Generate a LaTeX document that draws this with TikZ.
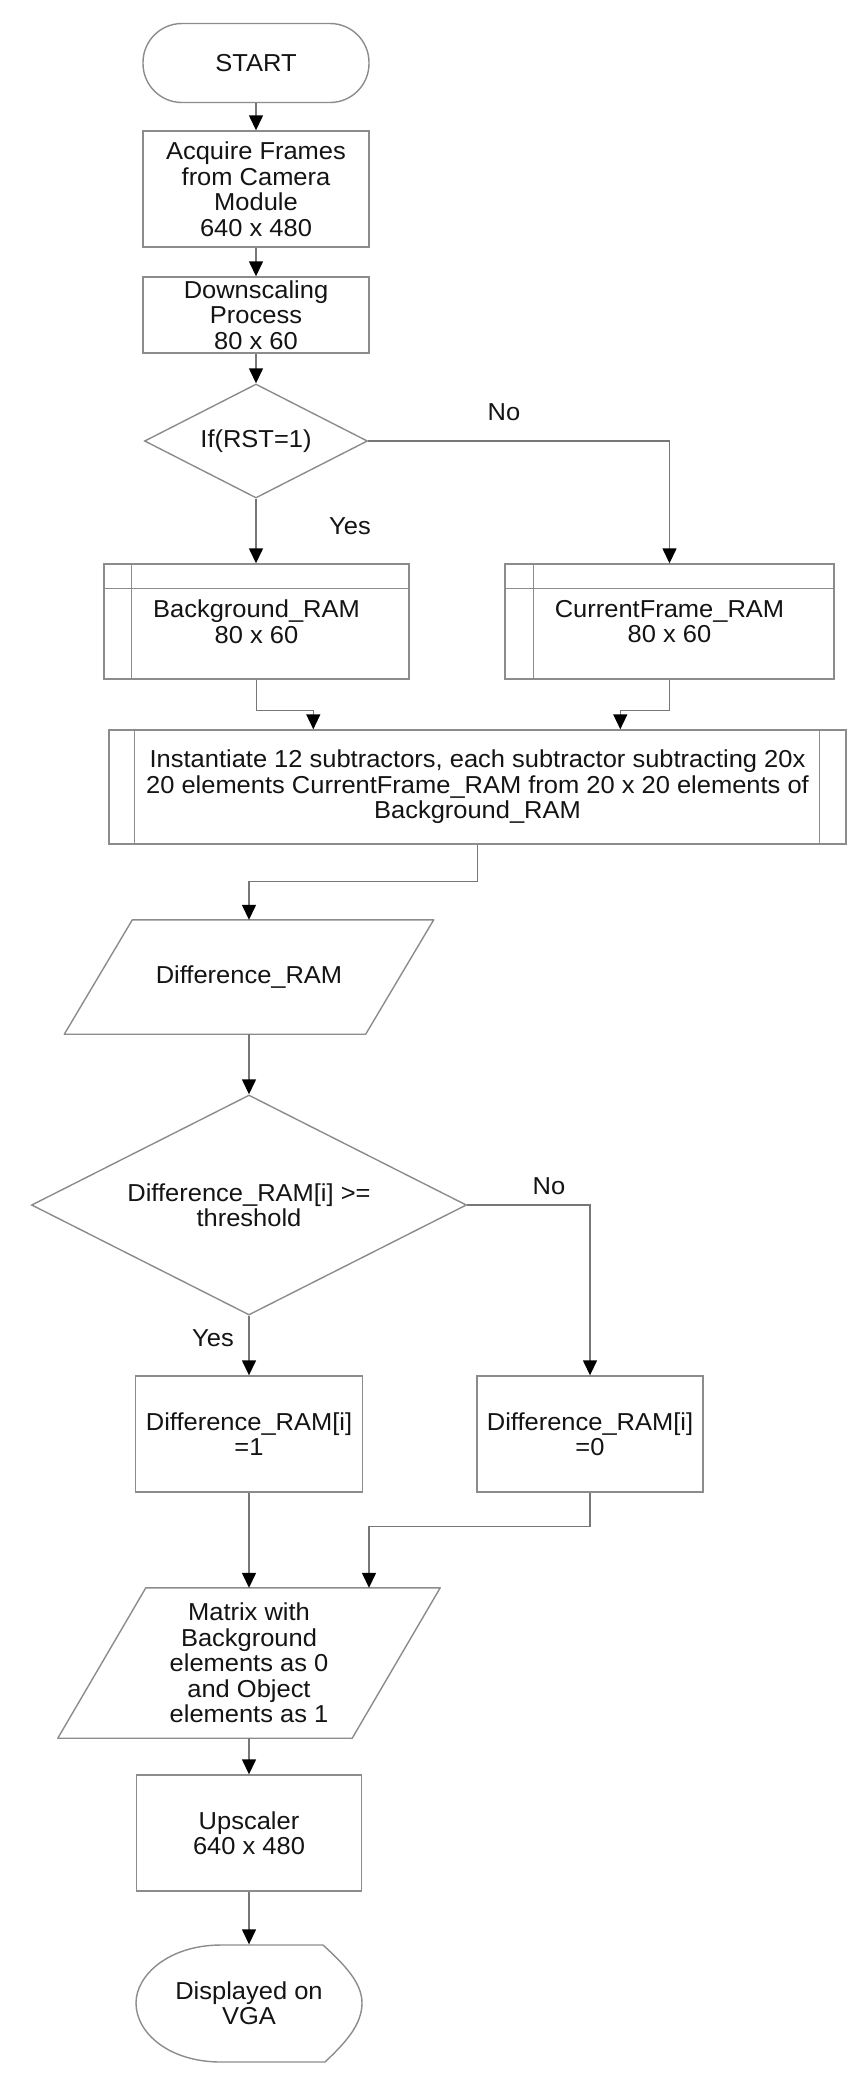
\documentclass[tikz,border=0pt]{standalone}
\usepackage{fontspec}
\setmainfont[FakeStretch=1.04]{Liberation Sans}
\usetikzlibrary{arrows.meta,shapes.geometric,calc}
\definecolor{edgegray}{HTML}{8C8C8C}
\definecolor{wiregray}{HTML}{777777}
\definecolor{ink}{HTML}{141414}
\begin{document}
\begin{tikzpicture}[x=1pt,y=-1pt,
  every node/.style={font=\fontsize{24.5}{25.5}\selectfont, text=ink, align=center, inner sep=0pt},
  procbox/.style={draw=edgegray, line width=1.4pt, rectangle},
  hidden/.style={rectangle},
  decision/.style={draw=edgegray, line width=1.4pt, diamond, aspect=1.95},
  outline/.style={draw=edgegray, line width=1.4pt, line join=round},
  wire/.style={draw=wiregray, line width=1.4pt},
  conn/.style={wire, -{Triangle[length=15pt,width=14pt,color=black]}},
  lbl/.style={}
]
\useasboundingbox (0,0) rectangle (850,2075);
\fill[white] (0,0) rectangle (850,2075);

% upper column
\node[procbox, rounded corners=39pt, minimum width=226pt, minimum height=79pt] (start) at (256,63) {START};
\node[procbox, minimum width=226pt, minimum height=116pt] (acquire) at (256,189)
  {Acquire Frames\\from Camera\\Module\\640 x 480};
\node[procbox, minimum width=226pt, minimum height=76pt] (down) at (256,315)
  {Downscaling\\Process\\80 x 60};
\node[decision, minimum width=223pt, minimum height=114pt] (dec1) at (256,441) {If(RST=1)};

% RAM blocks (predefined-process style)
\node[procbox, minimum width=305pt, minimum height=115pt] (bg) at (256.5,621.5)
  {Background\_RAM\\80 x 60};
\draw[outline] ($(bg.north west)+(28,0)$) -- ($(bg.south west)+(28,0)$);
\draw[outline] ($(bg.north west)+(0,25)$) -- ($(bg.north east)+(0,25)$);

\node[procbox, minimum width=329pt, minimum height=115pt] (cur) at (669.5,621.5)
  {CurrentFrame\_RAM\\80 x 60};
\draw[outline] ($(cur.north west)+(29,0)$) -- ($(cur.south west)+(29,0)$);
\draw[outline] ($(cur.north west)+(0,25)$) -- ($(cur.north east)+(0,25)$);

\node[procbox, minimum width=737pt, minimum height=114pt] (inst) at (477.5,787)
  {Instantiate 12 subtractors, each subtractor subtracting 20x\\20 elements CurrentFrame\_RAM from 20 x 20 elements of\\Background\_RAM};
\draw[outline] ($(inst.north west)+(26,0)$) -- ($(inst.south west)+(26,0)$);
\draw[outline] ($(inst.north east)+(-27,0)$) -- ($(inst.south east)+(-27,0)$);

% lower column
\node[hidden, minimum width=301pt, minimum height=114pt] (diffram) at (249,977) {Difference\_RAM};
\draw[outline] ($(diffram.north west)+(34,0)$) -- ($(diffram.north east)+(34,0)$)
  -- ($(diffram.south east)+(-34,0)$) -- ($(diffram.south west)+(-34,0)$) -- cycle;

\node[decision, minimum width=435pt, minimum height=220pt] (dec2) at (249,1205)
  {Difference\_RAM[i] >=\\threshold};

\node[procbox, minimum width=227pt, minimum height=116pt] (d1) at (249,1434) {Difference\_RAM[i]\\=1};
\node[procbox, minimum width=226pt, minimum height=116pt] (d0) at (590,1434) {Difference\_RAM[i]\\=0};

\node[hidden, minimum width=294pt, minimum height=150pt] (matrix) at (249,1663)
  {Matrix with\\Background\\elements as 0\\and Object\\elements as 1};
\draw[outline] ($(matrix.north west)+(44,0)$) -- ($(matrix.north east)+(44,0)$)
  -- ($(matrix.south east)+(-44,0)$) -- ($(matrix.south west)+(-44,0)$) -- cycle;

\node[procbox, minimum width=225pt, minimum height=116pt] (up) at (249,1833) {Upscaler\\640 x 480};

\node[hidden, minimum width=226pt, minimum height=117pt] (vga) at (249,2003) {Displayed on\\VGA};
\begin{scope}[shift={(vga.center)}]
  \draw[outline] (-28,-58) -- (74,-58)
    .. controls (96,-38) and (113,-20) .. (113,0)
    .. controls (113,22) and (96,40) .. (76,59)
    -- (-28,59)
    .. controls (-80,59) and (-113,30) .. (-113,0)
    .. controls (-113,-28) and (-80,-58) .. (-28,-58) -- cycle;
\end{scope}

% branch labels
\node[lbl] (no1) at (504,412) {No};
\node[lbl] (yes1) at (350,526) {Yes};
\node[lbl] (no2) at (549,1186) {No};
\node[lbl] (yes2) at (213,1338) {Yes};

% connectors
\draw[conn] (start) -- (acquire);
\draw[conn] (acquire) -- (down);
\draw[conn] (down) -- (dec1);
\draw[conn] (dec1.south) -- (dec1.south |- bg.north);
\draw[conn] (dec1.east) -| (cur.north);
\draw[conn] (bg.south) -- ++(0,31) -| ($(inst.north west)+(205,0)$);
\draw[conn] (cur.south) -- ++(0,31) -| ($(inst.north west)+(512,0)$);
\draw[conn] (inst.south) -- ++(0,37) -| (diffram.north);
\draw[conn] (diffram.south) -- (dec2.north);
\draw[conn] (dec2.south) -- (d1.north);
\draw[conn] (dec2.east) -| (d0.north);
\draw[conn] (d1.south) -- (matrix.north);
\draw[conn] (d0.south) -- ++(0,34) -| ($(matrix.north)+(120,0)$);
\draw[conn] (matrix.south) -- (up.north);
\draw[conn] (up.south) -- (vga.north);
\end{tikzpicture}
\end{document}
